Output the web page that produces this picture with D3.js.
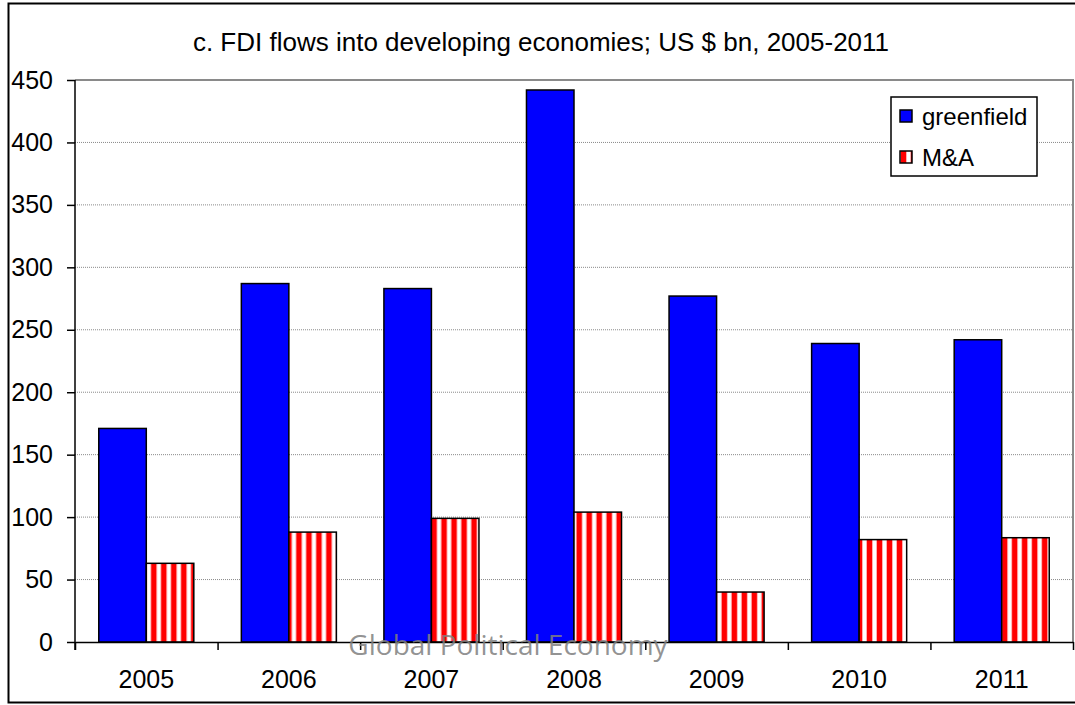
<!DOCTYPE html>
<html lang="en">
<head>
<meta charset="UTF-8">
<title>FDI flows into developing economies</title>
<script src="https://d3js.org/d3.v7.min.js"></script>
<style>
  body { margin: 0; background: #fff; }
  svg { display: block; font-family: "Liberation Sans", Arial, sans-serif; }
  .grid line { stroke: #8a8a8a; stroke-dasharray: 1,1; }
  .axis path, .axis line { stroke: #000; stroke-width: 1.5; }
  .axis text { font-size: 25px; fill: #000; }
</style>
</head>
<body>
<svg id="chart" width="1075" height="705"></svg>
<script>
  // data
  const years = ["2005", "2006", "2007", "2008", "2009", "2010", "2011"];
  const greenfield = [171, 287, 283, 442, 277, 239, 242];
  const mna = [63, 88, 99, 104, 40, 82, 83.5];
  const yTicks = [0, 50, 100, 150, 200, 250, 300, 350, 400, 450];
  const seriesNames = ["greenfield", "M&A"];

  const W = 1075, H = 705;
  const plot = { left: 75, right: 1073, top: 80, bottom: 642 };

  const svg = d3.select("#chart");
  const defs = svg.append("defs");

  // outer frame
  svg.append("rect")
    .attr("x", 8.5).attr("y", 3.5)
    .attr("width", W).attr("height", 699)
    .attr("fill", "#fff").attr("stroke", "#000").attr("stroke-width", 2);

  const x = d3.scaleBand().domain(years).range([plot.left, plot.right]);
  const xs = d3.scaleBand().domain(seriesNames)
    .range([0, x.bandwidth()]).paddingOuter(0.5);
  const y = d3.scaleLinear().domain([0, 450]).range([plot.bottom, plot.top]);

  // gridlines
  svg.append("g").attr("class", "grid")
    .selectAll("line").data(yTicks.filter(d => d > 0 && d < 450))
    .join("line")
      .attr("x1", plot.left).attr("x2", plot.right)
      .attr("y1", d => y(d)).attr("y2", d => y(d));

  // plot area border (top + right, gray)
  svg.append("path")
    .attr("d", `M${plot.left},${y(450)}H${plot.right}V${plot.bottom}`)
    .attr("fill", "none").attr("stroke", "#8a8a8a").attr("stroke-width", 2);

  // stripe patterns, one per bar so stripes start at the bar edge
  function stripe(id, x0) {
    const p = defs.append("pattern")
      .attr("id", id).attr("patternUnits", "userSpaceOnUse")
      .attr("x", x0).attr("y", 0).attr("width", 10).attr("height", 10);
    p.append("rect").attr("width", 10).attr("height", 10).attr("fill", "#fff");
    p.append("rect").attr("x", 0).attr("width", 5).attr("height", 10).attr("fill", "#ff0000");
    p.append("rect").attr("x", 5).attr("width", 1).attr("height", 10).attr("fill", "#ffb0b0");
    p.append("rect").attr("x", 9).attr("width", 1).attr("height", 10).attr("fill", "#ffb0b0");
  }

  const rows = years.map((yr, i) => ({ yr, g: greenfield[i], m: mna[i] }));

  const groups = svg.append("g").selectAll("g").data(rows).join("g")
    .attr("transform", d => `translate(${x(d.yr)},0)`);

  groups.append("rect")
    .attr("x", xs("greenfield")).attr("width", xs.bandwidth())
    .attr("y", d => y(d.g)).attr("height", d => y(0) - y(d.g))
    .attr("fill", "#0000ff").attr("stroke", "#000").attr("stroke-width", 1.5);

  groups.each(d => stripe("st" + d.yr, x(d.yr) + xs("M&A")));
  groups.append("rect")
    .attr("x", xs("M&A")).attr("width", xs.bandwidth())
    .attr("y", d => y(d.m)).attr("height", d => y(0) - y(d.m))
    .attr("fill", d => `url(#st${d.yr})`).attr("stroke", "#000").attr("stroke-width", 1.5);

  // y axis
  const yAxis = svg.append("g").attr("class", "axis")
    .attr("transform", `translate(${plot.left},0)`)
    .call(d3.axisLeft(y).tickValues(yTicks).tickSize(8).tickSizeOuter(0).tickPadding(14));
  yAxis.select(".domain").attr("d", `M0,${y(450)}V${plot.bottom + 8}`);

  // x axis: boundary ticks + centred labels
  const xb = d3.scaleLinear().domain([0, years.length]).range([plot.left, plot.right]);
  svg.append("g").attr("class", "axis")
    .attr("transform", `translate(0,${plot.bottom})`)
    .call(d3.axisBottom(xb).ticks(years.length).tickFormat("").tickSize(8).tickSizeOuter(0));
  const xAxis = svg.append("g").attr("class", "axis")
    .attr("transform", `translate(0,${plot.bottom})`)
    .call(d3.axisBottom(x).tickSize(0).tickPadding(28));
  xAxis.select(".domain").remove();

  // title
  svg.append("text")
    .attr("x", 541).attr("y", 51)
    .attr("text-anchor", "middle")
    .style("font-size", "26px")
    .text("c. FDI flows into developing economies; US $ bn, 2005-2011");

  // legend
  const lg = svg.append("g").attr("transform", "translate(891,97)");
  lg.append("rect").attr("width", 146).attr("height", 79)
    .attr("fill", "#fff").attr("stroke", "#000").attr("stroke-width", 1.5);
  stripe("stLegend", 900);
  const items = lg.selectAll("g").data(seriesNames).join("g")
    .attr("transform", (d, i) => `translate(0,${28 + i * 41})`);
  items.append("rect")
    .attr("x", 9).attr("y", -15).attr("width", 12).attr("height", 12)
    .attr("fill", (d, i) => i === 0 ? "#0000ff" : "url(#stLegend)")
    .attr("stroke", "#000").attr("stroke-width", 1.5);
  items.append("text")
    .attr("x", 31).attr("y", 0)
    .style("font-size", "24px")
    .text(d => d);

  // watermark
  svg.append("text")
    .attr("x", 508).attr("y", 655)
    .attr("text-anchor", "middle")
    .style("font-family", "'Open Sans', sans-serif")
    .style("font-size", "28px")
    .attr("fill", "#808080").attr("fill-opacity", 0.85)
    .text("Global Political Economy");
</script>
</body>
</html>
